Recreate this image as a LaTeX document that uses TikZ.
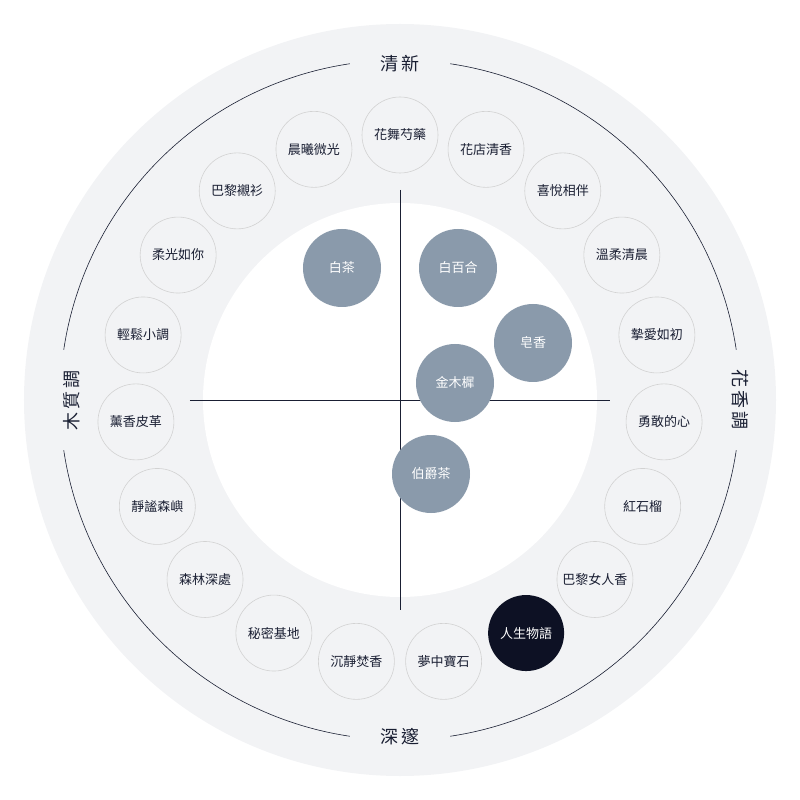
\documentclass[tikz,border=0pt]{standalone}
\usepackage{fontspec}
\newfontfamily\cjk{Noto Sans CJK TC}
\definecolor{ringbg}{HTML}{F2F3F5}
\definecolor{ink}{HTML}{1A1F33}
\definecolor{bubble}{HTML}{8A9AAB}
\definecolor{night}{HTML}{0D1124}
\tikzset{
  ringdot/.style = {circle, draw=gray!35, line width=0.6pt, minimum size=76pt, inner sep=0pt, text=ink, font=\cjk\fontsize{13}{13}\selectfont},
  darkdot/.style = {ringdot, draw=none, fill=night, text=white},
  notedot/.style = {circle, fill=bubble, minimum size=78pt, inner sep=0pt, text=white, font=\cjk\fontsize{13}{13}\selectfont},
  axislabel/.style = {text=ink, font=\cjk\fontsize{18}{18}\selectfont}
}
\begin{document}
\begin{tikzpicture}[x=1pt, y=1pt]
  \useasboundingbox (-400,-400) rectangle (400,400);
  \fill[ringbg] (0,0) circle[radius=376];
  \fill[white] (0,0) circle[radius=197];

  % outer thin ring with gaps for the labels
  \foreach \a in {0,90,180,270}
    \draw[ink, line width=0.6pt] ({\a+8.5}:340) arc[start angle=\a+8.5, end angle=\a+81.5, radius=340];

  \node[axislabel] (fresh) at (0,336) {清\,新};
  \node[axislabel] (deep)  at (0,-337) {深\,邃};
  \node[axislabel, rotate=90]  (woody)  at (-328,0) {木\,質\,調};
  \node[axislabel, rotate=-90] (floral) at (340,0) {花\,香\,調};

  % axes
  \coordinate (ax_n) at (0,210);
  \coordinate (ax_s) at (0,-210);
  \coordinate (ax_w) at (-210,0);
  \coordinate (ax_e) at (210,0);
  \draw[ink, line width=0.6pt] (ax_n) -- (ax_s);
  \draw[ink, line width=0.6pt] (ax_w) -- (ax_e);

  % ring of scents
  \foreach \name [count=\i from 0] in {花舞芍藥,花店清香,喜悅相伴,溫柔清晨,摯愛如初,勇敢的心,紅石榴,巴黎女人香,人生物語,夢中寶石,沉靜焚香,秘密基地,森林深處,靜謐森嶼,薰香皮革,輕鬆小調,柔光如你,巴黎襯衫,晨曦微光} {
    \ifnum\i=8 \def\dotstyle{darkdot}\else\def\dotstyle{ringdot}\fi
    \node[\dotstyle] (s_\i) at ({90-\i*360/19}:265) {\name};
  }

  % notes
  \node[notedot] (n_tea)    at (-58,132) {白茶};
  \node[notedot] (n_lily)   at (58,132)  {白百合};
  \node[notedot] (n_soap)   at (133,57)  {皂香};
  \node[notedot] (n_olive)  at (55,17)   {金木樨};
  \node[notedot] (n_earl)   at (31,-74)  {伯爵茶};
\end{tikzpicture}
\end{document}
